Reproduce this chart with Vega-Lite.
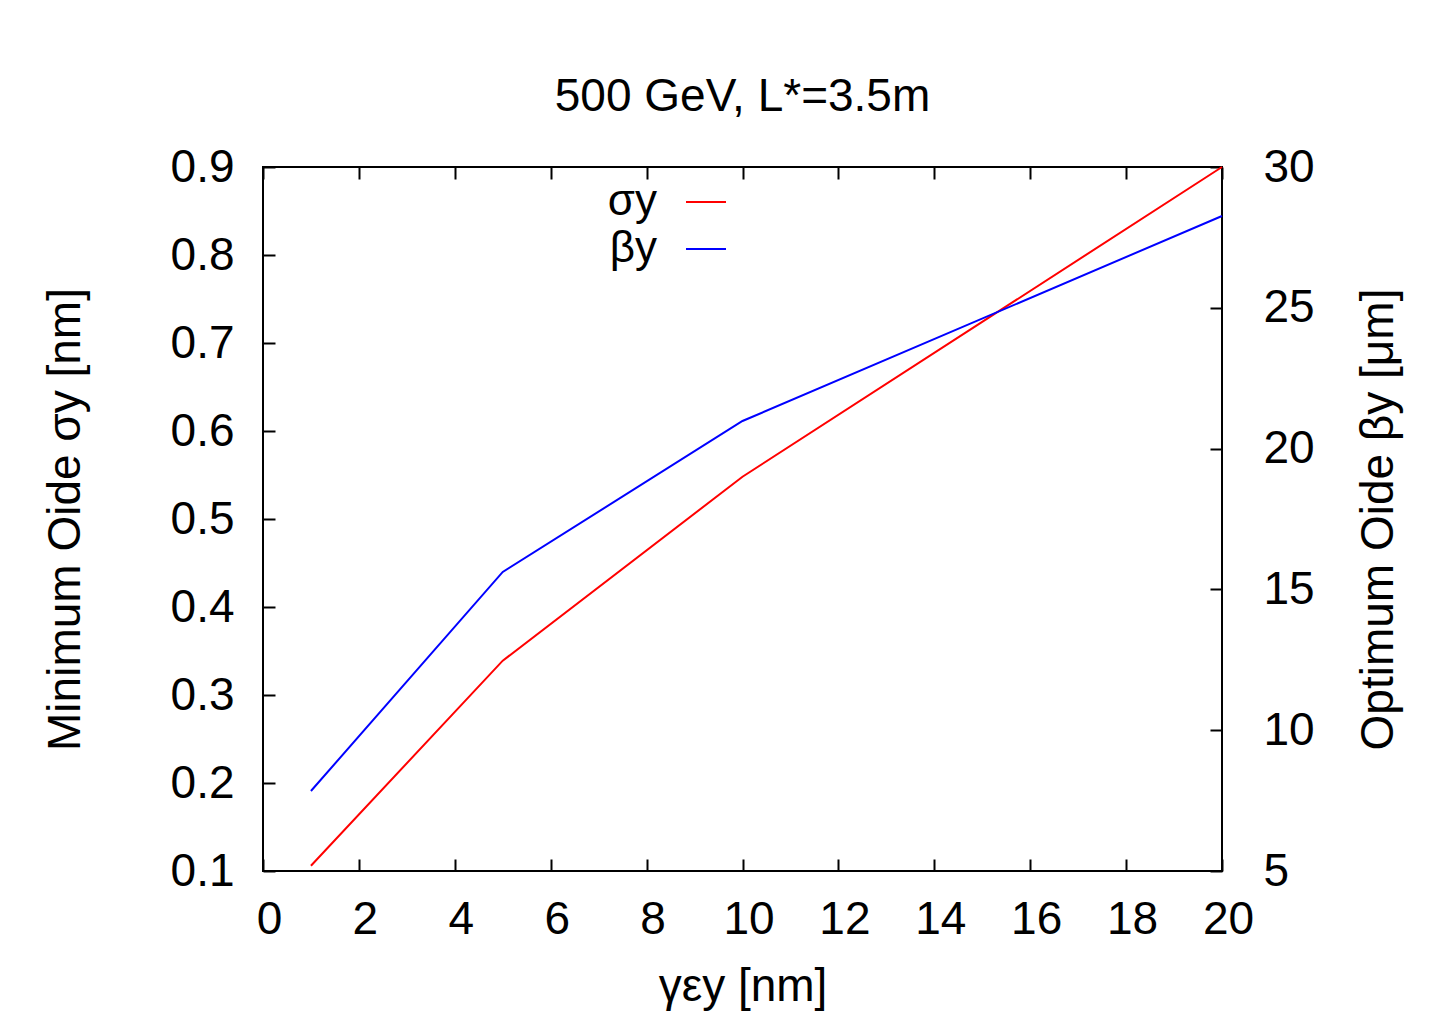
{
  "$schema": "https://vega.github.io/schema/vega-lite/v6.json",
  "width": 959,
  "height": 704,
  "autosize": {"type": "none"},
  "padding": {"left": 263, "top": 167, "right": 209, "bottom": 152},
  "background": "white",
  "config": {
    "font": "Liberation Sans",
    "view": {"stroke": "black", "strokeWidth": 2},
    "axis": {
      "grid": false,
      "domain": false,
      "tickColor": "black",
      "tickWidth": 2,
      "tickSize": -12,
      "labelFlush": false,
      "labelFontSize": 46,
      "labelColor": "black",
      "labelFont": "Liberation Sans",
      "titleFont": "Liberation Sans",
      "titleFontSize": 46,
      "titleFontWeight": "normal",
      "titleColor": "black"
    }
  },
  "title": {
    "text": "500 GeV, L*=3.5m",
    "fontSize": 46,
    "font": "Liberation Sans",
    "fontWeight": "normal",
    "color": "black",
    "anchor": "middle",
    "offset": 23
  },
  "data": {
    "values": [
      {"x": 1, "sigma": 0.106, "beta": 7.84},
      {"x": 5, "sigma": 0.339, "beta": 15.62},
      {"x": 10, "sigma": 0.548, "beta": 20.98},
      {"x": 20, "sigma": 0.9, "beta": 28.26}
    ]
  },
  "layer": [
    {
      "mark": {"type": "line", "color": "red", "strokeWidth": 2},
      "encoding": {
        "x": {
          "field": "x",
          "type": "quantitative",
          "scale": {"domain": [0, 20], "nice": false, "zero": false},
          "axis": {
            "orient": "bottom",
            "values": [0, 2, 4, 6, 8, 10, 12, 14, 16, 18, 20],
            "format": "d",
            "labelPadding": 38,
            "labelOffset": 6,
            "title": "γεy [nm]",
            "titlePadding": 22
          }
        },
        "y": {
          "field": "sigma",
          "type": "quantitative",
          "scale": {"domain": [0.1, 0.9], "nice": false, "zero": false},
          "axis": {
            "orient": "left",
            "values": [0.1, 0.2, 0.3, 0.4, 0.5, 0.6, 0.7, 0.8, 0.9],
            "format": ".1f",
            "labelPadding": 41,
            "title": "Minimum Oide σy [nm]",
            "titlePadding": 81
          }
        },
        "color": {
          "datum": "σy",
          "type": "nominal",
          "scale": {"domain": ["σy", "βy"], "range": ["red", "blue"]},
          "legend": {
            "orient": "none",
            "legendX": 421,
            "legendY": 13,
            "title": null,
            "padding": 0,
            "symbolType": "stroke",
            "symbolSize": 1600,
            "symbolStrokeWidth": 2,
            "labelFontSize": 44,
            "labelColor": "black",
            "labelAlign": "right",
            "labelOffset": -71,
            "rowPadding": 3
          }
        }
      }
    },
    {
      "mark": {"type": "line", "color": "blue", "strokeWidth": 2},
      "encoding": {
        "x": {
          "field": "x",
          "type": "quantitative",
          "axis": {
            "orient": "top",
            "values": [0, 2, 4, 6, 8, 10, 12, 14, 16, 18, 20],
            "labels": false,
            "title": null
          }
        },
        "y": {
          "field": "beta",
          "type": "quantitative",
          "scale": {"domain": [5, 30], "nice": false, "zero": false},
          "axis": {
            "orient": "right",
            "values": [5, 10, 15, 20, 25, 30],
            "format": "d",
            "labelPadding": 53,
            "title": "Optimum Oide βy [μm]",
            "titleAngle": 270,
            "titlePadding": 88
          }
        },
        "color": {"datum": "βy", "type": "nominal"}
      }
    }
  ],
  "resolve": {"scale": {"y": "independent"}, "axis": {"x": "independent"}}
}
